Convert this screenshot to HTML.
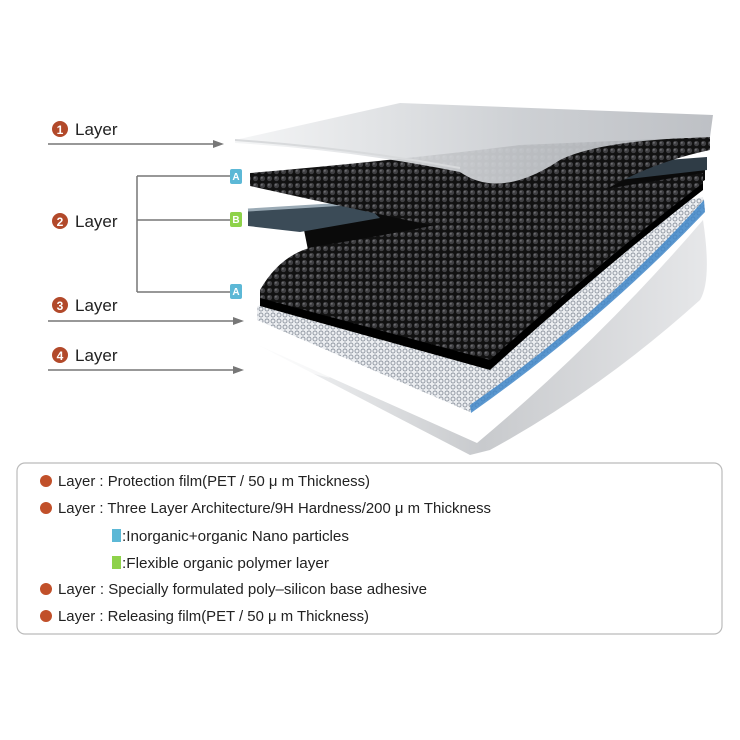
<!DOCTYPE html>
<html><head><meta charset="utf-8"><style>
html,body{margin:0;padding:0;background:#fff;}
svg{display:block;font-family:"Liberation Sans",sans-serif;}
</style></head><body>
<svg width="740" height="740" viewBox="0 0 740 740">
<defs>
<linearGradient id="g1" x1="0" y1="0" x2="1" y2="0"><stop offset="0" stop-color="#f4f5f6"/><stop offset="0.6" stop-color="#c9ccd0"/><stop offset="1" stop-color="#b8bbc0"/></linearGradient>
<linearGradient id="g4" x1="0" y1="0" x2="1" y2="0"><stop offset="0" stop-color="#f6f7f8"/><stop offset="0.5" stop-color="#c8cacd"/><stop offset="1" stop-color="#e6e7e9"/></linearGradient>
<pattern id="dots" width="7" height="7" patternUnits="userSpaceOnUse"><rect width="7" height="7" fill="#111"/><circle cx="3.5" cy="3.5" r="2.6" fill="#3f3f42"/><circle cx="2.8" cy="2.8" r="1" fill="#6c6c70"/></pattern>
<pattern id="mesh" width="6" height="6" patternUnits="userSpaceOnUse"><rect width="6" height="6" fill="#eceef1"/><circle cx="3" cy="3" r="2" fill="none" stroke="#8f96a0" stroke-width="0.9"/></pattern>
</defs>
<!-- layer 4 -->
<path d="M258 345 L477 443 Q600 340 703 220 Q712 280 700 300 Q600 390 490 450 L470 455 Z" fill="url(#g4)"/>
<path d="M258 345 L300 345 L330 378 L258 360 Z" fill="#fff" opacity="0.6"/>
<!-- layer 3 -->
<path d="M257 307 Q280 290 320 280 L703 197 L705 210 Q600 320 470 412 L257 320 Z" fill="url(#mesh)"/>
<path d="M470 405 Q600 315 704 200 L705 212 Q600 322 471 413 Z" fill="#3f86c8" opacity="0.85"/>
<!-- black backing between layers -->
<path d="M300 210 Q450 190 705 160 L705 180 Q600 240 480 300 L310 260 Z" fill="#0a0a0a"/>
<!-- big dotted layer -->
<path d="M260 290 Q280 255 313 247 Q450 225 600 190 L703 173 L703 185 Q600 260 490 362 L260 300 Z" fill="url(#dots)"/>
<path d="M260 298 L490 360 Q600 262 703 183 L703 190 Q600 270 490 370 L260 306 Z" fill="#000"/>
<!-- layer B -->
<path d="M248 210 L363 203 L380 218 L300 232 L248 226 Z" fill="#3b4b57"/>
<path d="M248 210 L363 203" stroke="#9aaab5" stroke-width="3"/>
<path d="M600 165 L707 157 L707 170 L620 180 Z" fill="#2f3c46"/>
<!-- layer A top -->
<path d="M250 173 Q400 160 520 145 L710 137 L710 150 Q640 165 590 200 Q520 240 470 233 Q380 215 250 186 Z" fill="url(#dots)"/>
<!-- layer 1 film -->
<path d="M235 140 L400 103 L713 115 L710 137 Q600 140 560 160 Q500 200 460 172 Q350 150 235 143 Z" fill="url(#g1)" opacity="0.92"/>
<path d="M235 140 Q350 148 460 168" stroke="#d8dadc" stroke-width="2" fill="none"/>

<!-- left labels -->
<g fill="#222" font-size="17">
<circle cx="60" cy="129" r="8" fill="#b2492a"/><text x="60" y="134" font-size="12" fill="#fff" text-anchor="middle" font-weight="bold">1</text>
<text x="75" y="135">Layer</text>
<circle cx="60" cy="221" r="8" fill="#b2492a"/><text x="60" y="226" font-size="12" fill="#fff" text-anchor="middle" font-weight="bold">2</text>
<text x="75" y="227">Layer</text>
<circle cx="60" cy="305" r="8" fill="#b2492a"/><text x="60" y="310" font-size="12" fill="#fff" text-anchor="middle" font-weight="bold">3</text>
<text x="75" y="311">Layer</text>
<circle cx="60" cy="355" r="8" fill="#b2492a"/><text x="60" y="360" font-size="12" fill="#fff" text-anchor="middle" font-weight="bold">4</text>
<text x="75" y="361">Layer</text>
</g>
<g stroke="#777" stroke-width="1.5" fill="none">
<path d="M48 144 H215"/><path d="M48 321 H235"/><path d="M48 370 H235"/>
<path d="M137 176 V292 M137 176 H230 M137 220 H230 M137 292 H230"/>
</g>
<g fill="#777"><path d="M213 140 L224 144 L213 148Z"/><path d="M233 317 L244 321 L233 325Z"/><path d="M233 366 L244 370 L233 374Z"/></g>
<g font-size="10" font-weight="bold" fill="#fff" text-anchor="middle">
<rect x="230" y="169" width="12" height="15" rx="2" fill="#5cb8d6"/><text x="236" y="180">A</text>
<rect x="230" y="212" width="12" height="15" rx="2" fill="#8ed24a"/><text x="236" y="223">B</text>
<rect x="230" y="284" width="12" height="15" rx="2" fill="#5cb8d6"/><text x="236" y="295">A</text>
</g>

<!-- legend box -->
<rect x="17" y="463" width="705" height="171" rx="8" fill="#fff" stroke="#bbb" stroke-width="1.2"/>
<g font-size="15" fill="#222">
<circle cx="46" cy="481" r="6" fill="#c1502a"/><text x="58" y="486" textLength="312" lengthAdjust="spacingAndGlyphs">Layer  :  Protection film(PET / 50 μ m Thickness)</text>
<circle cx="46" cy="508" r="6" fill="#c1502a"/><text x="58" y="513" textLength="433" lengthAdjust="spacingAndGlyphs">Layer  :  Three Layer Architecture/9H Hardness/200 μ m Thickness</text>
<rect x="112" y="529" width="9" height="13" fill="#5cb8d6"/><text x="122" y="541" textLength="227" lengthAdjust="spacingAndGlyphs">:Inorganic+organic Nano particles</text>
<rect x="112" y="556" width="9" height="13" fill="#8ed24a"/><text x="122" y="568" textLength="207" lengthAdjust="spacingAndGlyphs">:Flexible organic polymer layer</text>
<circle cx="46" cy="589" r="6" fill="#c1502a"/><text x="58" y="594" textLength="369" lengthAdjust="spacingAndGlyphs">Layer  :  Specially formulated poly–silicon base adhesive</text>
<circle cx="46" cy="616" r="6" fill="#c1502a"/><text x="58" y="621" textLength="311" lengthAdjust="spacingAndGlyphs">Layer  :  Releasing film(PET / 50 μ m Thickness)</text>
</g>
</svg>
</body></html>
